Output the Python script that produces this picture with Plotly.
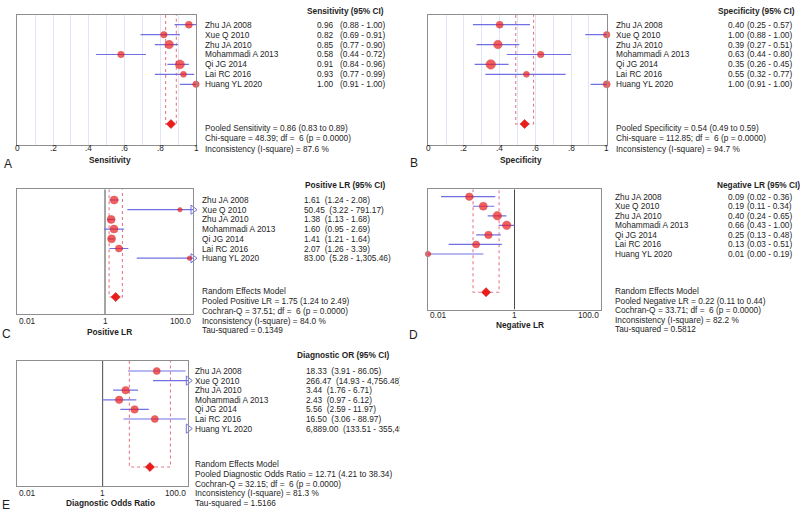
import math
import plotly.graph_objects as go

W, H = 800, 512

# ---------------- data ----------------
studies = ["Zhu JA 2008", "Xue Q 2010", "Zhu JA 2010", "Mohammadi A 2013",
           "Qi JG 2014", "Lai RC 2016", "Huang YL 2020"]

sens_est = [0.96, 0.82, 0.85, 0.58, 0.91, 0.93, 1.00]
sens_lo = [0.88, 0.69, 0.77, 0.44, 0.84, 0.77, 0.91]
sens_hi = [1.00, 0.91, 0.90, 0.72, 0.96, 0.99, 1.00]
sens_pooled = [0.86, 0.83, 0.89]

spec_est = [0.40, 1.00, 0.39, 0.63, 0.35, 0.55, 1.00]
spec_lo = [0.25, 0.88, 0.27, 0.44, 0.26, 0.32, 0.91]
spec_hi = [0.57, 1.00, 0.51, 0.80, 0.45, 0.77, 1.00]
spec_pooled = [0.54, 0.49, 0.59]

plr_est = [1.61, 50.45, 1.38, 1.60, 1.41, 2.07, 83.00]
plr_lo = [1.24, 3.22, 1.13, 0.95, 1.21, 1.26, 5.28]
plr_hi = [2.08, 791.17, 1.68, 2.69, 1.64, 3.39, 1305.46]
plr_pooled = [1.75, 1.24, 2.49]

nlr_est = [0.09, 0.19, 0.40, 0.66, 0.25, 0.13, 0.01]
nlr_lo = [0.02, 0.11, 0.24, 0.43, 0.13, 0.03, 0.00]
nlr_hi = [0.36, 0.34, 0.65, 1.00, 0.48, 0.51, 0.19]
nlr_pooled = [0.22, 0.11, 0.44]

dor_est = [18.33, 266.47, 3.44, 2.43, 5.56, 16.50, 6889.00]
dor_lo = [3.91, 14.93, 1.76, 0.97, 2.59, 3.06, 133.51]
dor_hi = [86.05, 4756.48, 6.71, 6.12, 11.97, 88.97, 355458.79]
dor_pooled = [12.71, 4.21, 38.34]

lin_ticks = [0, 0.2, 0.4, 0.6, 0.8, 1]
lin_tick_labels = ["0", ".2", ".4", ".6", ".8", "1"]
lin_grid = [0.1, 0.2, 0.3, 0.4, 0.5, 0.6, 0.7, 0.8, 0.9]
log_ticks = [0.01, 1, 100]
log_tick_labels = ["0.01", "1", "100.0"]

stats_sens = ["Pooled Sensitivity = 0.86 (0.83 to 0.89)",
              "Chi-square = 48.39; df =  6 (p = 0.0000)",
              "Inconsistency (I-square) = 87.6 %"]
stats_spec = ["Pooled Specificity = 0.54 (0.49 to 0.59)",
              "Chi-square = 112.85; df =  6 (p = 0.0000)",
              "Inconsistency (I-square) = 94.7 %"]
stats_plr = ["Random Effects Model",
             "Pooled Positive LR = 1.75 (1.24 to 2.49)",
             "Cochran-Q = 37.51; df =  6 (p = 0.0000)",
             "Inconsistency (I-square) = 84.0 %",
             "Tau-squared = 0.1349"]
stats_nlr = ["Random Effects Model",
             "Pooled Negative LR = 0.22 (0.11 to 0.44)",
             "Cochran-Q = 33.71; df =  6 (p = 0.0000)",
             "Inconsistency (I-square) = 82.2 %",
             "Tau-squared = 0.5812"]
stats_dor = ["Random Effects Model",
             "Pooled Diagnostic Odds Ratio = 12.71 (4.21 to 38.34)",
             "Cochran-Q = 32.15; df =  6 (p = 0.0000)",
             "Inconsistency (I-square) = 81.3 %",
             "Tau-squared = 1.5166"]

# ---------------- styles / layout ----------------
size_sens = [7, 6.5, 8.5, 6.5, 9, 6, 6.5]
size_spec = [7, 6.5, 8.5, 6.5, 9.5, 6, 7]
size_plr = [8, 4.5, 8, 8, 8, 7, 4.5]
size_nlr = [7.5, 8, 8.5, 8.5, 7.5, 7, 5.5]
size_dor = [7, 7, 7.5, 7.5, 7.5, 7, 7]

FONT = "Liberation Sans, Arial, sans-serif"
FS = 8.3
TXT = "#1e1e1e"
RED = "#ec1c1c"
RED_EDGE = "#c20c0c"
BLUE = "rgb(112,112,228)"
BOX = "rgba(226,100,115,0.85)"
FRAME = "#8e8e8e"
GRID = "rgb(224,230,247)"

panels = [
    dict(letter="A", title="Sensitivity", header="Sensitivity (95% CI)",
         est=sens_est, lo=sens_lo, hi=sens_hi, pooled=sens_pooled, sizes=size_sens,
         stats=stats_sens, log=False, combined=False,
         x0=17.3, x1=196, y0=15, y1=144.5, row0=24.7, dy=9.93,
         name_x=203, val_x=315, ci_right=387, header_x=305, header_y=11,
         stats_y=[128.3, 138.3, 148.5], tick_y=147.5,
         title_x=110, title_y=159.5, letter_x=8, letter_y=164),
    dict(letter="B", title="Specificity", header="Specificity (95% CI)",
         est=spec_est, lo=spec_lo, hi=spec_hi, pooled=spec_pooled, sizes=size_spec,
         stats=stats_spec, log=False, combined=False,
         x0=428.3, x1=606.7, y0=15, y1=144.5, row0=24.7, dy=9.93,
         name_x=614.3, val_x=725.7, ci_right=793.5, header_x=716, header_y=11,
         stats_y=[128.3, 138.3, 148.5], tick_y=147.5,
         title_x=521, title_y=160, letter_x=414, letter_y=163),
    dict(letter="C", title="Positive LR", header="Positive LR (95% CI)",
         est=plr_est, lo=plr_lo, hi=plr_hi, pooled=plr_pooled, sizes=size_plr,
         stats=stats_plr, log=True, combined=True,
         x0=17, x1=193, y0=189.3, y1=314, row0=200, dy=9.7,
         name_x=200, val_x=303.3, ci_right=None, header_x=303, header_y=184.7,
         stats_y=[291, 300.7, 310.7, 320.7, 330.3], tick_y=321,
         title_x=109, title_y=331.5, letter_x=6, letter_y=334),
    dict(letter="D", title="Negative LR", header="Negative LR (95% CI)",
         est=nlr_est, lo=nlr_lo, hi=nlr_hi, pooled=nlr_pooled, sizes=size_nlr,
         stats=stats_nlr, log=True, combined=False,
         x0=428, x1=601, y0=189.3, y1=309.5, row0=196.7, dy=9.55,
         name_x=613.3, val_x=725.7, ci_right=793.5, header_x=715, header_y=184.7,
         stats_y=[291, 300.7, 310, 320, 329.3], tick_y=315.3,
         title_x=520, title_y=325.3, letter_x=414, letter_y=335),
    dict(letter="E", title="Diagnostic Odds Ratio", header="Diagnostic OR (95% CI)",
         est=dor_est, lo=dor_lo, hi=dor_hi, pooled=dor_pooled, sizes=size_dor,
         stats=stats_dor, log=True, combined=True,
         x0=17, x1=188.3, y0=360.7, y1=486, row0=371, dy=9.6,
         name_x=193.3, val_x=305, ci_right=None, header_x=295, header_y=355,
         stats_y=[464, 474, 484, 493.3, 503.3], tick_y=492.7,
         title_x=110, title_y=503.3, letter_x=6, letter_y=504.5),
]

fig = go.Figure()
annotations = []
NB = "\u00a0"


def ann(text, x, y, xref="paper", yref="paper", xanchor="left", size=FS, **kw):
    d = dict(text=text, x=x, y=y, xref=xref, yref=yref, xanchor=xanchor,
             yanchor="middle", showarrow=False,
             font=dict(family=FONT, size=size, color=TXT))
    d.update(kw)
    annotations.append(d)


layout_axes = {}
for i, p in enumerate(panels):
    n = i + 1
    sfx = "" if n == 1 else str(n)
    xa, ya = "x" + sfx, "y" + sfx
    top = (p["y0"] - p["row0"]) / p["dy"]
    bot = (p["y1"] - p["row0"]) / p["dy"]
    rows = list(range(len(studies)))
    prow = len(studies) + 3
    if p["log"]:
        xmin, xmax = log_ticks[0], log_ticks[-1]
    else:
        xmin, xmax = lin_ticks[0], lin_ticks[-1]

    # reference line at 1 for ratio panels
    if p["log"]:
        fig.add_trace(go.Scatter(x=[1, 1], y=[bot, top], mode="lines",
                                 line=dict(color="#4a4a4a", width=1),
                                 xaxis=xa, yaxis=ya, hoverinfo="skip"))

    # pooled CI box
    plo, phi = p["pooled"][1], p["pooled"][2]
    fig.add_trace(go.Scatter(x=[plo, plo, phi, phi], y=[top, prow, prow, top],
                             mode="lines", line=dict(color=BOX, width=1.1, dash="dot"),
                             xaxis=xa, yaxis=ya, hoverinfo="skip"))

    # CI lines
    lx, ly = [], []
    ax_, ay_ = [], []
    for r, lo, hi in zip(rows, p["lo"], p["hi"]):
        if hi > xmax:
            ax_.append(xmax)
            ay_.append(r)
        if lo >= xmax:
            continue
        lx += [max(lo, xmin), min(hi, xmax), None]
        ly += [r, r, None]
    fig.add_trace(go.Scatter(x=lx, y=ly, mode="lines",
                             line=dict(color=BLUE, width=1.2),
                             xaxis=xa, yaxis=ya, hoverinfo="skip"))
    if ax_:
        fig.add_trace(go.Scatter(x=ax_, y=ay_, mode="markers",
                                 marker=dict(symbol="triangle-right-open", size=8,
                                             color=BLUE, line=dict(width=1, color=BLUE)),
                                 cliponaxis=False, xaxis=xa, yaxis=ya, hoverinfo="skip"))

    # point estimates
    px_, py_, ps_ = [], [], []
    for r, v, s in zip(rows, p["est"], p["sizes"]):
        if xmin <= v <= xmax:
            px_.append(v)
            py_.append(r)
            ps_.append(s)
    fig.add_trace(go.Scatter(x=px_, y=py_, mode="markers",
                             marker=dict(symbol="circle", size=ps_, color=RED,
                                         line=dict(width=0.5, color=RED_EDGE)),
                             cliponaxis=False, xaxis=xa, yaxis=ya, hoverinfo="skip"))
    # pooled estimate
    fig.add_trace(go.Scatter(x=[p["pooled"][0]], y=[prow], mode="markers",
                             marker=dict(symbol="diamond", size=7, color=RED,
                                         line=dict(width=0.5, color=RED_EDGE)),
                             cliponaxis=False, xaxis=xa, yaxis=ya, hoverinfo="skip"))

    # axes
    xkey = "xaxis" + sfx
    ykey = "yaxis" + sfx
    xd = dict(domain=[p["x0"] / W, p["x1"] / W], anchor=ya,
              showline=True, mirror=True, linecolor=FRAME, linewidth=1,
              ticks="", showticklabels=False, zeroline=False, fixedrange=True)
    if p["log"]:
        xd.update(type="log", range=[math.log10(xmin), math.log10(xmax)], showgrid=False)
    else:
        xd.update(type="linear", range=[xmin, xmax], showgrid=True, gridcolor=GRID,
                  gridwidth=1, tickmode="array", tickvals=lin_grid)
    yd = dict(domain=[1 - p["y1"] / H, 1 - p["y0"] / H], anchor=xa,
              range=[bot, top], showline=True, mirror=True, linecolor=FRAME,
              linewidth=1, ticks="", showticklabels=False, showgrid=False,
              zeroline=False, fixedrange=True)
    layout_axes[xkey] = xd
    layout_axes[ykey] = yd

    # tick labels
    if p["log"]:
        anchors = ["left", "center", "right"]
        for t, lab, an in zip(log_ticks, log_tick_labels, anchors):
            ann(lab, math.log10(t), 1 - p["tick_y"] / H, xref=xa, xanchor=an)
    else:
        for t, lab in zip(lin_ticks, lin_tick_labels):
            ann(lab, t, 1 - p["tick_y"] / H, xref=xa, xanchor="center")

    # axis title, panel letter, header
    ann("<b>" + p["title"] + "</b>", p["title_x"] / W, 1 - p["title_y"] / H, xanchor="center")
    ann(p["letter"], p["letter_x"] / W, 1 - p["letter_y"] / H, xanchor="center", size=12)
    ann("<b>" + p["header"] + "</b>", p["header_x"] / W, 1 - p["header_y"] / H)

    # study rows
    for r, name, v, lo, hi in zip(rows, studies, p["est"], p["lo"], p["hi"]):
        ann(name, p["name_x"] / W, r, yref=ya)
        if p["combined"]:
            txt = f"{v:,.2f}" + NB * 2 + f"({lo:,.2f} - {hi:,.2f})"
            ann(txt, p["val_x"] / W, r, yref=ya, width=399 - p["val_x"],
                align="left", borderpad=0)
        else:
            ann(f"{v:.2f}", p["val_x"] / W, r, yref=ya)
            ann(f"({lo:.2f} - {hi:.2f})", p["ci_right"] / W, r, yref=ya, xanchor="right")

    # summary statistics
    for s, yy in zip(p["stats"], p["stats_y"]):
        ann(s.replace("  ", NB + NB), p["name_x"] / W, 1 - yy / H)

fig.update_layout(width=W, height=H, margin=dict(l=0, r=0, t=0, b=0),
                  paper_bgcolor="white", plot_bgcolor="white", showlegend=False,
                  font=dict(family=FONT, size=FS, color=TXT),
                  annotations=annotations, **layout_axes)

fig.write_html("out.html", config={"displayModeBar": False},
               post_script="document.body.style.margin='0';document.body.style.overflow='hidden';")
